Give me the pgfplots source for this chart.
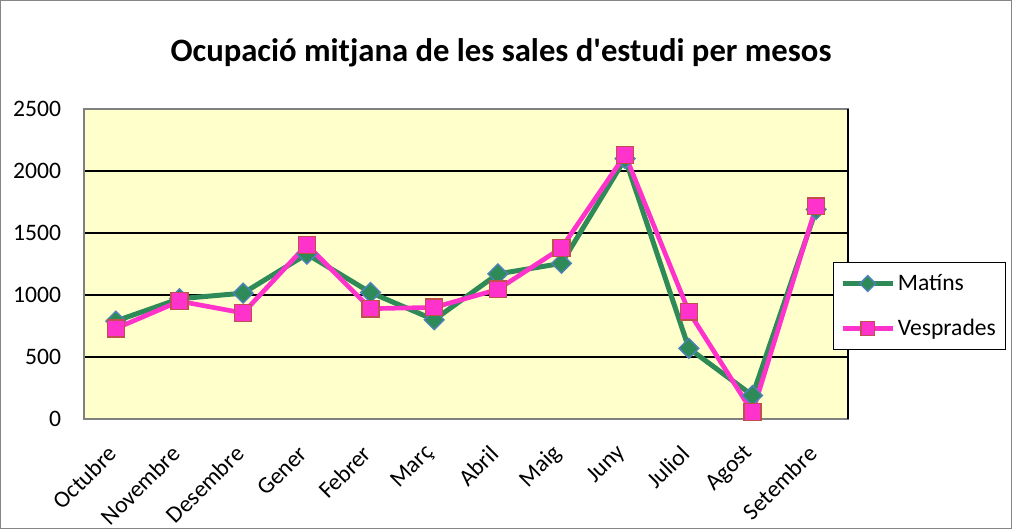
\documentclass[border=0pt]{standalone}
\usepackage{pgfplots}
\pgfplotsset{compat=1.18}
\usepackage{fontspec}
\setmainfont{Carlito}
\definecolor{matgreen}{RGB}{46,139,87}
\definecolor{matedge}{RGB}{79,129,189}
\definecolor{vesp}{RGB}{255,51,204}
\definecolor{vespedge}{RGB}{192,80,77}
\definecolor{bgyellow}{RGB}{255,255,204}
\begin{document}
\begin{tikzpicture}
\useasboundingbox (-63pt,-82.5pt) rectangle (696pt,314.25pt);
\draw[color={rgb,255:red,134;green,134;blue,134}, line width=0.75pt] (-62.6pt,-82.1pt) rectangle (695.6pt,313.85pt);
\begin{axis}[
  at={(0,0)}, anchor=south west,
  scale only axis, width=573pt, height=232.5pt,
  xmin=-0.5, xmax=11.5, ymin=0, ymax=2500,
  xtick={0,...,11},
  xticklabels={Octubre,Novembre,Desembre,Gener,Febrer,Març,Abril,Maig,Juny,Juliol,Agost,Setembre},
  ytick={0,500,1000,1500,2000,2500},
  major tick length=0pt,
  /pgf/number format/assume math mode=true,
  /pgf/number format/1000 sep={},
  tick label style={font=\fontsize{17.7}{21}\selectfont},
  xticklabel style={yshift=-23pt, xshift=-2.5pt, rotate=45, anchor=east, inner sep=0pt},
  yticklabel style={anchor=east, inner sep=0pt, xshift=-17pt},
  axis background/.style={fill=bgyellow},
  ymajorgrids, grid style={black, line width=1.1pt},
  axis line style={draw=gray, line width=1.1pt},
  clip=false,
  legend style={at={(0.9804,0.5065)}, anchor=north west, draw=black, line width=0.8pt,
    fill=white, font=\fontsize{17.7}{21}\selectfont, inner xsep=5pt, inner ysep=7pt,
    row sep=16pt},
  legend cell align=left,
  legend image code/.code={\draw[mark repeat=2,mark phase=2,#1, every mark/.append style={scale=0.8}] plot coordinates {(0pt,0pt)(18.75pt,0pt)(37.5pt,0pt)};},
]
\addplot[color=matgreen, line width=3.75pt, mark=square*, mark size=5.25pt,
  mark options={rotate=45, fill=matgreen, draw=matedge, line width=1pt}]
  coordinates {(0,790)(1,970)(2,1015)(3,1330)(4,1020)(5,800)(6,1170)(7,1255)(8,2100)(9,570)(10,190)(11,1690)};
\addlegendentry{Matíns}
\addplot[color=vesp, line width=3.5pt, mark=square*, mark size=6.3pt,
  mark options={fill=vesp, draw=vespedge, line width=1pt}]
  coordinates {(0,730)(1,950)(2,855)(3,1405)(4,890)(5,900)(6,1045)(7,1380)(8,2130)(9,865)(10,55)(11,1715)};
\addlegendentry{Vesprades}
\draw[black, line width=1.1pt] (rel axis cs:1,0) -- (rel axis cs:1,1);
\end{axis}
\node[font=\fontsize{24.5}{29}\selectfont\bfseries] at (312.75pt,274.5pt) {Ocupació mitjana de les sales d\textquotesingle estudi per mesos};
\end{tikzpicture}
\end{document}
